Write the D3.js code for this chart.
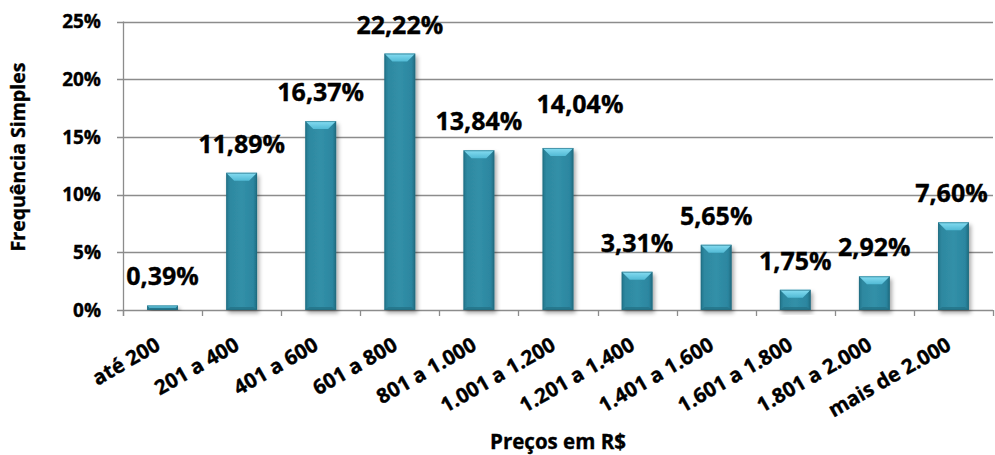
<!DOCTYPE html>
<html>
<head>
<meta charset="utf-8">
<script src="https://cdn.jsdelivr.net/npm/d3@7"></script>
<style>
  html, body { margin: 0; padding: 0; background: #fff; }
  svg { display: block; }
  text { font-family: "Open Sans", "Noto Sans", sans-serif; font-weight: 700; fill: #000; stroke: #000; stroke-width: 0.35px; }
</style>
</head>
<body>
<svg id="chart" width="995" height="455"></svg>
<script>
// ---- data ----
const categories = ["até 200", "201 a 400", "401 a 600", "601 a 800", "801 a 1.000", "1.001 a 1.200",
                    "1.201 a 1.400", "1.401 a 1.600", "1.601 a 1.800", "1.801 a 2.000", "mais de 2.000"];
const values = [0.39, 11.89, 16.37, 22.22, 13.84, 14.04, 3.31, 5.65, 1.75, 2.92, 7.60];
const valueLabels = ["0,39%", "11,89%", "16,37%", "22,22%", "13,84%", "14,04%", "3,31%", "5,65%", "1,75%", "2,92%", "7,60%"];
const yTicks = [0, 5, 10, 15, 20, 25];
const yTickLabels = ["0%", "5%", "10%", "15%", "20%", "25%"];
const yTitle = "Frequência Simples";
const xTitle = "Preços em R$";

// ---- layout ----
const svg = d3.select("#chart");
const plot = { left: 123, right: 993, top: 21.5, bottom: 310 };
// manual label nudge (as in the original chart)
const labelNudge = { "1.001 a 1.200": [22, -15], "mais de 2.000": [-2, 0] };

const x = d3.scaleBand().domain(categories).range([plot.left, plot.right])
  .paddingInner(0.61).paddingOuter(0.305);
const y = d3.scaleLinear().domain([0, 25]).range([plot.bottom, plot.top]);

const defs = svg.append("defs");
const f = defs.append("filter").attr("id", "shadow").attr("x", "-30%").attr("y", "-10%").attr("width", "170%").attr("height", "130%");
f.append("feDropShadow").attr("dx", 2).attr("dy", 3).attr("stdDeviation", 2).attr("flood-color", "#000").attr("flood-opacity", 0.35);

const body = defs.append("linearGradient").attr("id", "bodyGrad").attr("x1", 0).attr("x2", 1).attr("y1", 0).attr("y2", 0);
[[0, "#22758b"], [0.12, "#2e88a0"], [0.5, "#3190a8"], [0.88, "#2c86a0"], [1, "#1f6b80"]].forEach(([o, c]) =>
  body.append("stop").attr("offset", o).attr("stop-color", c));
const topG = defs.append("linearGradient").attr("id", "topGrad").attr("x1", 0).attr("x2", 0).attr("y1", 0).attr("y2", 1);
[[0, "#86ddf2"], [1, "#52bad5"]].forEach(([o, c]) => topG.append("stop").attr("offset", o).attr("stop-color", c));

// gridlines
const grid = svg.append("g");
grid.selectAll("line").data(yTicks).join("line")
  .attr("x1", plot.left - 6).attr("x2", plot.right)
  .attr("y1", d => Math.round(y(d)) + 0.5).attr("y2", d => Math.round(y(d)) + 0.5)
  .attr("stroke", "#8c8c8c").attr("stroke-width", 1.3);

// y axis line
svg.append("line").attr("x1", plot.left + 0.5).attr("x2", plot.left + 0.5)
  .attr("y1", plot.top).attr("y2", plot.bottom + 6)
  .attr("stroke", "#8c8c8c").attr("stroke-width", 1.3);

// x category boundary ticks
const step = x.step();
const bounds = d3.range(categories.length + 1).map(i => plot.left + i * step);
svg.append("g").selectAll("line").data(bounds).join("line")
  .attr("x1", d => Math.round(d) + 0.5).attr("x2", d => Math.round(d) + 0.5)
  .attr("y1", plot.bottom).attr("y2", plot.bottom + 6)
  .attr("stroke", "#8c8c8c").attr("stroke-width", 1.3);

// y tick labels
svg.append("g").selectAll("text").data(yTicks).join("text")
  .attr("x", 101).attr("y", d => y(d)).attr("dy", "0.36em")
  .attr("text-anchor", "end").style("font-size", "19px")
  .text((d, i) => yTickLabels[i]);

// bars
const bars = svg.append("g").selectAll("g").data(categories).join("g").attr("filter", "url(#shadow)");
bars.each(function (c, i) {
  const g = d3.select(this);
  const x0 = x(c), w = x.bandwidth();
  const y0 = y(values[i]), h = plot.bottom - y0;
  const b = Math.min(8, h / 2);
  const s = Math.min(4, w / 2);
  g.append("rect").attr("x", x0).attr("y", y0).attr("width", w).attr("height", h).attr("fill", "url(#bodyGrad)");
  // bottom bevel
  g.append("path").attr("d", `M${x0},${y0 + h} L${x0 + s},${y0 + h - Math.min(3, b)} L${x0 + w - s},${y0 + h - Math.min(3, b)} L${x0 + w},${y0 + h} Z`)
    .attr("fill", "#256f83").attr("opacity", 0.7);
  // top bevel
  g.append("path").attr("d", `M${x0},${y0} L${x0 + w},${y0} L${x0 + w - b},${y0 + b} L${x0 + b},${y0 + b} Z`)
    .attr("fill", "url(#topGrad)");
  g.append("rect").attr("x", x0 + 0.5).attr("y", y0 + 0.5).attr("width", w - 1).attr("height", Math.max(0, h - 1))
    .attr("fill", "none").attr("stroke", "#1f6a7e").attr("stroke-width", 1).attr("opacity", 0.6);
});

// value labels
svg.append("g").selectAll("text").data(categories).join("text")
  .attr("x", (c) => x(c) + x.bandwidth() / 2 + (labelNudge[c] ? labelNudge[c][0] : 0))
  .attr("y", (c, i) => y(values[i]) - 20 + (labelNudge[c] ? labelNudge[c][1] : 0))
  .attr("text-anchor", "middle").style("font-size", "25px")
  .text((c, i) => valueLabels[i]);

// x tick labels (rotated)
svg.append("g").selectAll("text").data(categories).join("text")
  .attr("transform", c => `translate(${x(c) + x.bandwidth() / 2 - 1},${349}) rotate(-30)`)
  .attr("text-anchor", "end").style("font-size", "20.5px")
  .text(c => c);

// axis titles
svg.append("text").attr("transform", `translate(25,157) rotate(-90)`)
  .attr("text-anchor", "middle").style("font-size", "19.5px").text(yTitle);
svg.append("text").attr("x", 558).attr("y", 449).attr("text-anchor", "middle")
  .style("font-size", "20.5px").text(xTitle);
</script>
</body>
</html>
